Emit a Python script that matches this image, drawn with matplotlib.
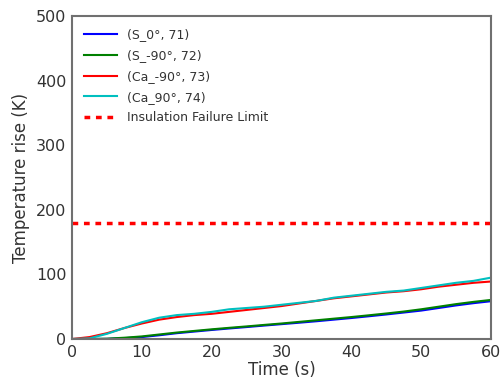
import matplotlib
matplotlib.use("Agg")
import matplotlib.pyplot as plt

t = [0, 2.5, 5, 7.5, 10, 12.5, 15, 17.5, 20, 22.5, 25, 27.5, 30, 32.5, 35,
     37.5, 40, 42.5, 45, 47.5, 50, 52.5, 55, 57.5, 60]
s_0 = [0, 0, 0.2, 1.3, 3, 5.8, 9, 11.5, 14, 16.3, 18.5, 20.8, 23, 25.2, 27.5,
       30, 32.5, 35.2, 38, 41, 44, 48, 52, 55.5, 58.5]
s_m90 = [0, 0.1, 0.5, 2, 4, 7, 10, 12.5, 15, 17.3, 19.5, 21.8, 24, 26.5, 29,
         31.5, 34, 36.7, 39.5, 42.5, 46, 50, 54, 57.5, 60.5]
ca_m90 = [0, 3, 9, 17, 24, 30, 34, 37, 39, 42, 45, 48, 51, 55, 59,
          63, 66, 69, 72, 74, 77, 81, 84, 87, 89]
ca_90 = [0, 1, 8, 17, 26, 33, 37, 39, 42, 46, 48, 50, 53, 56, 59,
         64, 67, 70, 73, 75, 79, 83, 87, 90, 95]
limit = 180
labels = ["(S_0°, 71)", "(S_-90°, 72)", "(Ca_-90°, 73)", "(Ca_90°, 74)",
          "Insulation Failure Limit"]
colors = ["#0000ff", "#008000", "#ff0000", "#00bfbf"]

plt.rcParams['font.family'] = ['DejaVu Sans']
fig = plt.figure(figsize=(5.01, 3.89), dpi=100)
ax = fig.add_axes([0.1437, 0.1285, 0.8363, 0.8304])

for y, c, lab in zip([s_0, s_m90, ca_m90, ca_90], colors, labels[:4]):
    ax.plot(t, y, color=c, lw=1.5, label=lab)
ax.axhline(limit, color="#ff0000", lw=2.5, ls=(0, (1.65, 1.65)), label=labels[4])

ax.set_xlim(0, 60)
ax.set_ylim(0, 500)
ax.set_xticks(range(0, 61, 10))
ax.set_yticks(range(0, 501, 100))
ax.tick_params(length=0, labelsize=11.5, colors="#333333", pad=4)
for s in ax.spines.values():
    s.set_color("#707070")
    s.set_linewidth(1.5)
ax.set_xlabel("Time (s)", fontsize=12, color="#333333", labelpad=1)
ax.set_ylabel("Temperature rise (K)", fontsize=12, color="#333333", labelpad=4)
leg = ax.legend(loc="upper left", frameon=False, fontsize=9, handlelength=2.6,
                labelspacing=0.62, borderaxespad=0.6, handletextpad=0.8)
for txt in leg.get_texts():
    txt.set_color("#333333")

fig.savefig("out.png", dpi=100)
